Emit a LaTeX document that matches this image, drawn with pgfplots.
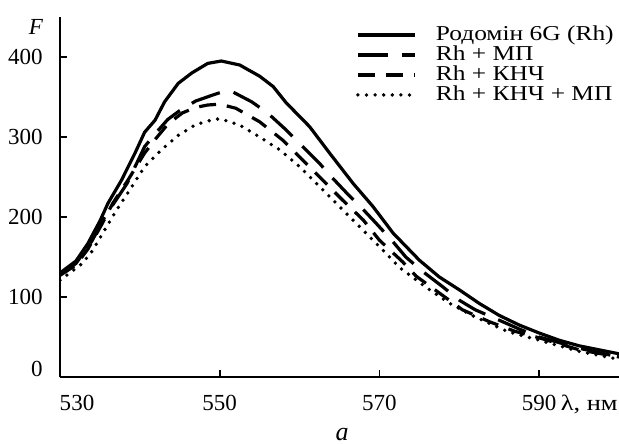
\documentclass[border=0pt]{standalone}
\usepackage{fontspec}
\setmainfont{Liberation Serif}
\newfontfamily\wide[FakeStretch=1.2]{Liberation Serif}
\usepackage{pgfplots}
\pgfplotsset{compat=1.18}

% spectra: lambda (nm), F
\pgfplotstableread{
x y
530 130
532 145
533.5 167
535 195
536 217
537.7 246
539.4 280
540.6 306
541.9 321
543.1 344
544.8 367
546.5 380
548.5 392
550.2 395
552.5 390
555 376
556.7 363
558.3 343
561.25 313
563.75 280
566.7 242
569.2 213
571.7 180
575 146
577.5 125
580 109
582.5 92
585 77
587.5 65
590 55
592.5 46
595 39
597.5 34
600 29
}\rh
\pgfplotstableread{
x y
530 128
532 142
534 170
535.6 200
538.4 242
540.6 288
542 305
543.5 322
545 333
547 345
549 352
550.5 357
551.7 356
554 344
556 330
558.3 309
560.4 288
562.5 267
564 250
565.9 230
568 209
569.6 192
571.7 169
573.3 150
575.4 132
577.9 113
580 96
582 84
585 71
587.5 60
590 50
595 36
600 25
}\rhmp
\pgfplotstableread{
x y
530 127
532 140
533.5 160
535.3 192
536.6 217
538.5 246
540.6 280
542 298
543.5 316
545.3 330
547 337
548.5 340
550 341
552 336
555 319
557.9 296
560.4 271
562.5 250
565.4 221
568 196
570 171
572.9 144
574.6 126
577.5 105
580.4 84
583.8 69
587 57
590 49
595 34
600 25
}\rhk
\pgfplotstableread{
x y
530 121
531.5 132
532.8 142
534 157
535.6 184
537.1 209
539 238
540.6 263
542.7 284
544.8 302
546.9 315
548.5 320
550 323
552.5 315
555 300
557.5 284
560 263
562.5 238
565 213
567.5 188
570 163
572.5 137
576 111
578.8 92
582 75
586 57
590 46
595 32
600 22
}\rhkmp

\begin{document}
\begin{tikzpicture}
\begin{axis}[
  scale only axis,
  width=279.5pt, height=180pt,
  xmin=530, xmax=600, ymin=0, ymax=450,
  axis x line*=bottom, axis y line*=left,
  axis line style={black, line width=0.8pt},
  tick style={black, line width=0.8pt},
  tick align=inside,
  major tick length=3.5pt,
  xtick={550,570,590},
  ytick={100,200,300,400},
  extra x ticks={530},
  extra x tick style={xticklabel style={xshift=8.5pt}},
  extra y ticks={0},
  extra y tick style={yticklabel style={yshift=4pt}},
  /pgf/number format/assume math mode=true,
  ticklabel style={font=\fontsize{11.5}{13}\selectfont, inner sep=0pt},
  xticklabel style={anchor=base, yshift=-16.5pt},
  yticklabel style={anchor=east, xshift=-8.5pt},
  legend style={draw=none, fill=none, at={(0.5295,0.978)}, anchor=north west,
    inner sep=0pt, outer sep=0pt, row sep=0pt, column sep=9.5pt,
    font=\wide\fontsize{10.6}{12}\selectfont,
    nodes={inner sep=0pt, text height=7.6pt, text depth=2.4pt}},
  legend cell align=left,
  legend image code/.code={\draw[#1] (0pt,0pt) -- (28.5pt,0pt);},
  every axis plot/.append style={line width=1.6pt, black},
]
\addplot[solid] table {\rh};
\addlegendentry{Родомін 6G (Rh)}
\addplot[dash pattern=on 15pt off 7pt] table {\rhmp};
\addlegendentry{Rh + МП}
\addplot[dash pattern=on 8.5pt off 5.5pt] table {\rhk};
\addlegendentry{Rh + КНЧ}
\addplot[line width=1.9pt, line cap=round, dash pattern=on 0pt off 4.3pt] table {\rhkmp};
\addlegendentry{Rh + КНЧ + МП}
\end{axis}
\node[font=\fontsize{11.5}{13}\selectfont\itshape] at (-12pt,175pt) {F};
\node[anchor=base east, inner sep=0pt, font=\wide\fontsize{11}{13}\selectfont] at (279pt,-16.5pt) {λ, нм};
\node[anchor=base, inner sep=0pt, font=\fontsize{13}{15}\selectfont\itshape] at (141pt,-31.5pt) {a};
\pgfresetboundingbox
\path (-30pt,-33pt) rectangle (279.5pt,188.5pt);
\end{tikzpicture}
\end{document}
